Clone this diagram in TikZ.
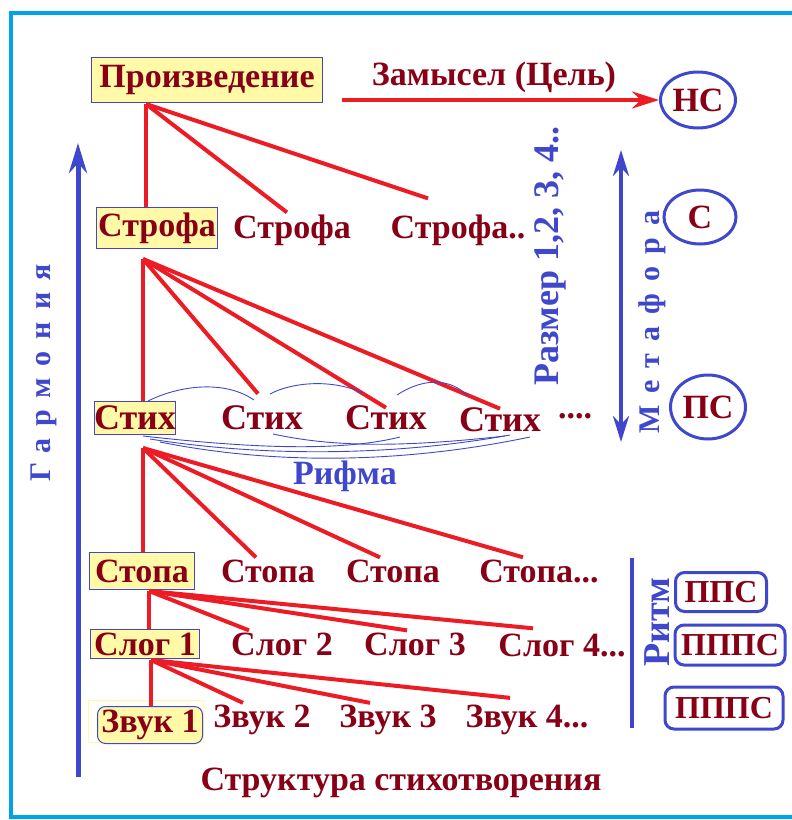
\documentclass[tikz,border=0pt]{standalone}
\usepackage{fontspec}
\setmainfont{Liberation Serif}
\usetikzlibrary{arrows.meta,shapes.geometric,positioning}
\definecolor{wine}{HTML}{880015}
\definecolor{paintblue}{HTML}{3F48CC}
\definecolor{paintred}{HTML}{ED1C24}
\definecolor{pale}{HTML}{FFF9A8}
\definecolor{framecyan}{HTML}{00A2E8}

\begin{document}
\begin{tikzpicture}[x=1pt,y=-1pt,
	word/.style={text=wine,font=\fontsize{34}{36}\selectfont\bfseries,inner sep=2pt},
	big/.style={font=\fontsize{34}{36}\selectfont\bfseries},
	verse/.style={font=\fontsize{36}{38}\selectfont\bfseries},
	head/.style={word,fill=pale,draw=paintblue,line width=1pt,inner sep=0pt},
	link/.style={paintred,line width=4pt},
	rhyme/.style={paintblue,line width=0.9pt},
	vert/.style={text=paintblue,font=\fontsize{34}{36}\selectfont\bfseries,rotate=90},
	oval/.style={word,ellipse,draw=paintblue,line width=3pt,inner sep=1pt},
	pill/.style={word,font=\fontsize{32}{34}\selectfont\bfseries,rounded corners=9pt,draw=paintblue,line width=3pt,inner sep=2pt},
	bluearrow/.style={paintblue,line width=5pt}]
	
	\useasboundingbox (0,0) rectangle (792,820);
	\draw[framecyan,line width=4pt] (792,13) -- (11,13) -- (11,817) -- (792,817);
	
	\node[head,big,minimum width=231,minimum height=45] (work) at (207,80) {Произведение};
	\node[word] (plan) at (494,77) {Замысел (Цель)};
	\node[oval,minimum width=70,minimum height=56] (ns) at (698,100) {НС};
	\node[oval,minimum width=72,minimum height=54] (s) at (700,217) {С};
	\node[oval,minimum width=71,minimum height=64] (ps) at (708,407) {ПС};
	
	\node[head,big,minimum width=121,minimum height=41] (st1) at (157,228) {Строфа};
	\node[word,big] (st2) at (292,230) {Строфа};
	\node[word,big] (st3) at (458,230) {Строфа..};
	
	\node[head,verse,minimum width=76,minimum height=33] (v1) at (135,418) {Стих};
	\node[word,verse] (v2) at (262,418) {Стих};
	\node[word,verse] (v3) at (386,418) {Стих};
	\node[word,verse] (v4) at (500,420) {Стих};
	\node[word] (vdots) at (575,416) {....};
	\node[text=paintblue,font=\fontsize{34}{36}\selectfont\bfseries] (rhymes) at (345,476) {Рифма};
	
	\node[head,minimum width=105,minimum height=37] (f1) at (142,571) {Стопа};
	\node[word] (f2) at (268,571) {Стопа};
	\node[word] (f3) at (393,571) {Стопа};
	\node[word] (f4) at (539,571) {Стопа...};
	
	\node[head,minimum width=109,minimum height=29] (g1) at (145,644) {Слог 1};
	\node[word] (g2) at (282,644) {Слог 2};
	\node[word] (g3) at (415,644) {Слог 3};
	\node[word] (g4) at (562,645) {Слог 4...};
	
	\draw[pale,line width=1pt] (88,700) rectangle (203,742);
	\node[head,rounded corners=8pt,minimum width=105,minimum height=37] (z1) at (150,725) {Звук 1};
	\node[word] (z2) at (262,720) {Звук 2};
	\node[word] (z3) at (388,720) {Звук 3};
	\node[word] (z4) at (527,720) {Звук 4...};
	
	\node[word] (title) at (401,783) {Структура стихотворения};
	
	\node[vert,font=\fontsize{30}{32}\selectfont\bfseries] (harmony) at (44,373) {\addfontfeatures{LetterSpace=40}Гармония};
	\node[vert,font=\fontsize{36}{38}\selectfont\bfseries] (metre) at (550,256) {Размер 1,2, 3, 4..};
	\node[vert,font=\fontsize{30}{32}\selectfont\bfseries] (metaphor) at (652,322) {\addfontfeatures{LetterSpace=40}Метафора};
	\node[vert,font=\fontsize{38}{40}\selectfont\bfseries] (rhythm) at (657,622) {Ритм};
	
	\node[pill,minimum width=91,minimum height=39] (p1) at (721,592) {ППС};
	\node[pill,minimum width=110,minimum height=40] (p2) at (730,645) {ПППС};
	\node[pill,minimum width=118,minimum height=42] (p3) at (724,708) {ПППС};
	
	\coordinate (hb) at (78,777); \coordinate (ht) at (78,143);
	\draw[bluearrow,-{Stealth[length=30,width=18,open]}] (hb) -- (ht);
	\coordinate (mb) at (621,442); \coordinate (mt) at (621,150);
	\draw[bluearrow,line width=4pt,{Stealth[length=26,width=16,open]}-{Stealth[length=26,width=16,open]}] (mb) -- (mt);
	\coordinate (rb) at (632,728); \coordinate (rt) at (632,558);
	\draw[paintblue,line width=4pt] (rb) -- (rt);
	
	\draw[link,-{Stealth[length=27,width=17]}] (342,100) coordinate (aim) -- (ns.west);
	
	\coordinate (wf) at (146,104);
	\draw[link] (wf) -- (wf |- st1.north);
	\draw[link] (wf) -- ([xshift=-5]st2.north);
	\draw[link] (wf) -- ([shift={(-30,-14)}]st3.north);
	
	\coordinate (sf) at (143,259);
	\draw[link] (sf) -- (sf |- v1.north);
	\draw[link] (sf) -- ([shift={(-4,-10)}]v2.north);
	\draw[link] (sf) -- ([yshift=-4]v3.north);
	\draw[link] (sf) -- ([yshift=-3]v4.north);
	
	\coordinate (vf) at (143,448);
	\draw[link] (vf) -- (vf |- f1.north);
	\draw[link] (vf) -- ([xshift=-12]f2.north);
	\draw[link] (vf) -- ([xshift=-13]f3.north);
	\draw[link] (vf) -- ([xshift=-16]f4.north);
	
	\coordinate (ff) at (149,591);
	\draw[link] (ff) -- (ff |- g1.north);
	\draw[link] (ff) -- ([xshift=-33]g2.north);
	\draw[link] (ff) -- ([xshift=-8]g3.north);
	\draw[link] (ff) -- ([shift={(-29,-3)}]g4.north);
	
	\coordinate (gf) at (151,660);
	\draw[link] (gf) -- (gf |- z1.north);
	\draw[link] (gf) -- ([xshift=-19]z2.north);
	\draw[link] (gf) -- ([xshift=-18]z3.north);
	\draw[link] (gf) -- ([shift={(-17,-5)}]z4.north);
	
	\draw[rhyme] (148,401) .. controls (180,385) and (225,380) .. (254,400);
	\draw[rhyme] (270,394) .. controls (290,383) and (330,378) .. (363,393);
	\draw[rhyme] (397,395) .. controls (415,383) and (445,373) .. (468,396);
	\draw[rhyme] (143,436) .. controls (250,448) and (340,452) .. (400,437);
	\draw[rhyme] (150,439) .. controls (270,458) and (400,455) .. (510,435);
	\draw[rhyme] (160,442) .. controls (290,468) and (420,460) .. (530,437);
	\draw[rhyme] (273,434) .. controls (320,444) and (380,450) .. (505,436);
\end{tikzpicture}
\end{document}
